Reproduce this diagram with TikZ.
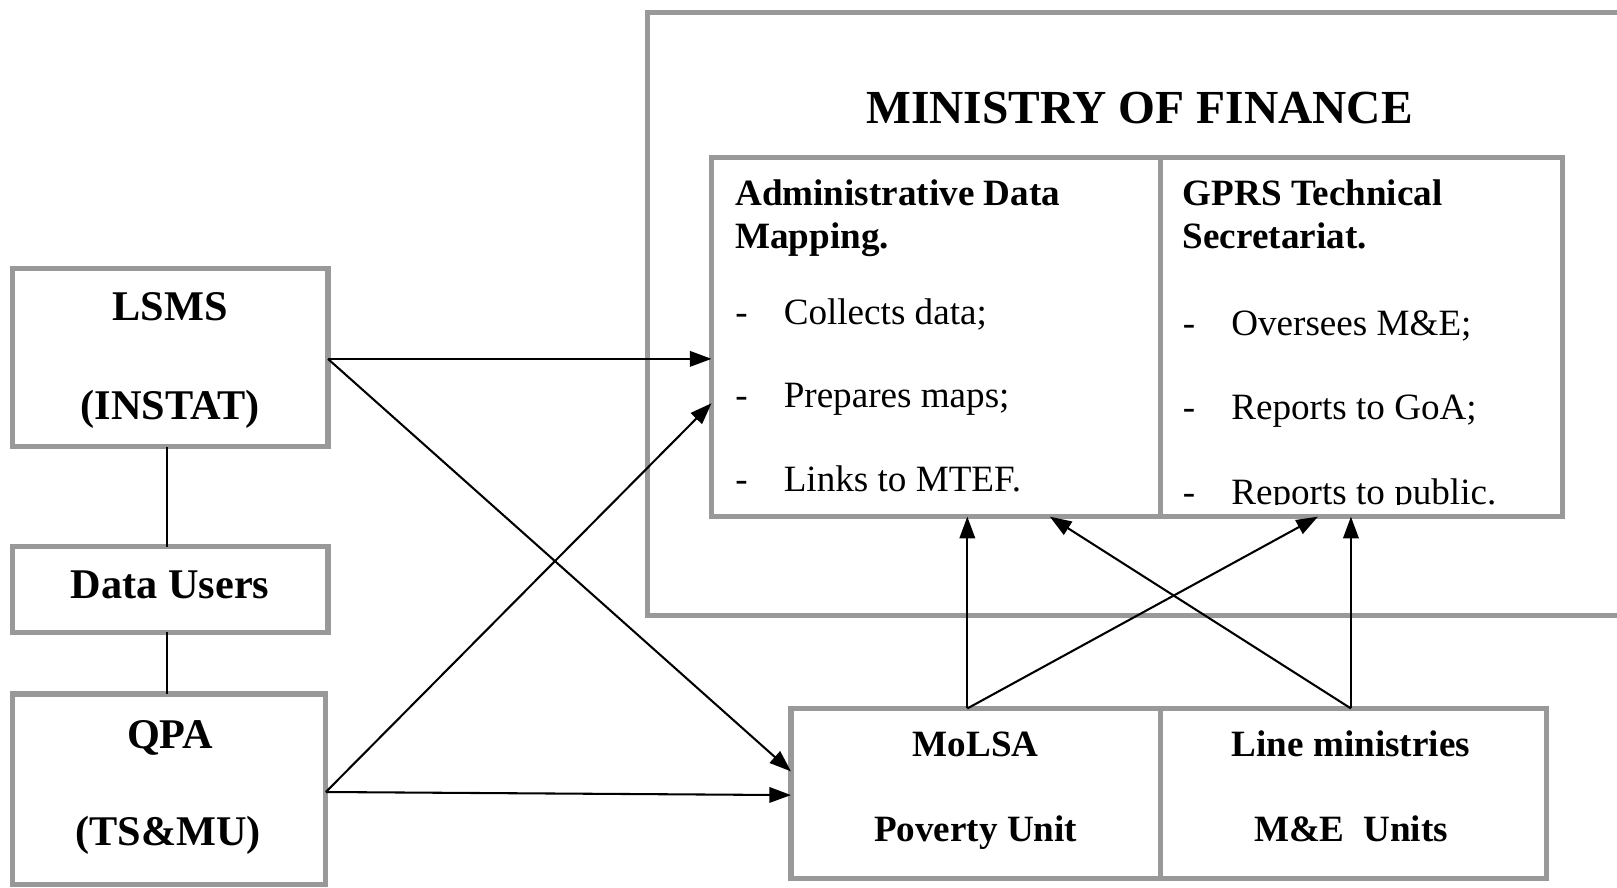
\documentclass[tikz,border=0pt]{standalone}
\usepackage{fontspec}
\setmainfont{Liberation Serif}
\usetikzlibrary{arrows.meta,calc}
\definecolor{boxgray}{RGB}{153,153,153}
\newcommand\lbig{\fontsize{41}{49}\selectfont\bfseries}
\newcommand\ttl{\fontsize{46}{55}\selectfont\bfseries}
\newcommand\hdb{\fontsize{36}{43}\selectfont\bfseries}
\newcommand\itm{\fontsize{36}{43}\selectfont}
\begin{document}
\begin{tikzpicture}[x=1pt,y=-1pt,
  box/.style={draw=boxgray,line width=5pt,fill=none,inner sep=0pt,outer sep=0pt},
  txt/.style={inner sep=0pt,outer sep=0pt},
  conn/.style={line width=2pt,black},
  arr/.style={line width=2pt,black,-{Triangle[length=21pt,width=15pt]}}]
\clip (0,0) rectangle (1568,861);
% left column
\node[box,minimum width=306pt,minimum height=173pt] (lsms) at (165,346.5) {};
\node[box,minimum width=306pt,minimum height=83pt] (du) at (165,571.5) {};
\node[box,minimum width=304pt,minimum height=185pt] (qpa) at (164,765.5) {};
\node[txt,anchor=base] (t1) at (165,311) {\lbig LSMS};
\node[txt,anchor=base] (t2) at (165,407) {\lbig (INSTAT)};
\node[txt,anchor=base] (t3) at (165,580) {\lbig Data Users};
\node[txt,anchor=base] (t4) at (165,726) {\lbig QPA};
\node[txt,anchor=base] (t5) at (163,820) {\lbig (TS\&MU)};
\draw[conn] ([xshift=-3pt]lsms.south) -- ([xshift=-3pt]du.north);
\draw[conn] ([xshift=-3pt]du.south) -- ([xshift=-2pt]qpa.north);
% ministry of finance
\node[box,minimum width=972pt,minimum height=585pt] (mof) at (1114,304.5) {};
\node[txt,anchor=base] (mt) at (1105,120) {\ttl MINISTRY OF FINANCE};
\node[box,minimum width=435pt,minimum height=348pt] (adm) at (907.5,327) {};
\node[box,minimum width=390pt,minimum height=348pt] (gprs) at (1320,327) {};
\node[txt,anchor=base west] (a1) at (713,199) {\hdb Administrative Data};
\node[txt,anchor=base west] (a2) at (713,241) {\hdb Mapping.};
\node[txt,anchor=base west] (ad1) at (713,315) {\itm -};
\node[txt,anchor=base west] (ai1) at (760,315) {\itm Collects data;};
\node[txt,anchor=base west] (ad2) at (713,395) {\itm -};
\node[txt,anchor=base west] (ai2) at (760,395) {\itm Prepares maps;};
\node[txt,anchor=base west] (ad3) at (713,477) {\itm -};
\node[txt,anchor=base west] (ai3) at (760,477) {\itm Links to MTEF.};
\node[txt,anchor=base west] (g1) at (1147,199) {\hdb GPRS Technical};
\node[txt,anchor=base west] (g2) at (1147,241) {\hdb Secretariat.};
\node[txt,anchor=base west] (gd1) at (1147,325) {\itm -};
\node[txt,anchor=base west] (gi1) at (1194,325) {\itm Oversees M\&E;};
\node[txt,anchor=base west] (gd2) at (1147,407) {\itm -};
\node[txt,anchor=base west] (gi2) at (1194,407) {\itm Reports to GoA;};
\begin{scope}
\clip (1127,153) rectangle (1513,489);
\node[txt,anchor=base west] (gd3) at (1147,489) {\itm -};
\node[txt,anchor=base west] (gi3) at (1194,489) {\itm Reports to public.};
\end{scope}
% bottom boxes
\node[box,minimum width=358pt,minimum height=165pt] (molsa) at (946,769.5) {};
\node[box,minimum width=375pt,minimum height=165pt] (lm) at (1312.5,769.5) {};
\node[txt,anchor=base] (m1) at (946,734) {\hdb MoLSA};
\node[txt,anchor=base] (m2) at (946,816) {\hdb Poverty Unit};
\node[txt,anchor=base] (l1) at (1310,734) {\hdb Line ministries};
\node[txt,anchor=base] (l2) at (1310,816) {\hdb M\&E~~Units};
% arrows
\draw[arr] ([yshift=-1.5pt]lsms.east) -- ([yshift=-1.5pt]lsms.east -| adm.west);
\draw[arr] ([yshift=-1.5pt]lsms.east) -- ([yshift=21.5pt]molsa.west);
\draw[arr] ([yshift=-2.5pt]qpa.east) -- ([yshift=-64pt]adm.west);
\draw[arr] ([yshift=-2.5pt]qpa.east) -- ([yshift=-1.5pt]molsa.west);
\draw[arr] ([xshift=-8pt]molsa.north) -- ([xshift=-8pt]molsa.north |- adm.south);
\draw[arr] ([xshift=-8pt]molsa.north) -- ([xshift=-42pt]gprs.south);
\draw[arr] ([xshift=-2.5pt]lm.north) -- ([xshift=-2.5pt]lm.north |- gprs.south);
\draw[arr] ([xshift=-2.5pt]lm.north) -- ([xshift=110.5pt]adm.south);
\end{tikzpicture}
\end{document}
